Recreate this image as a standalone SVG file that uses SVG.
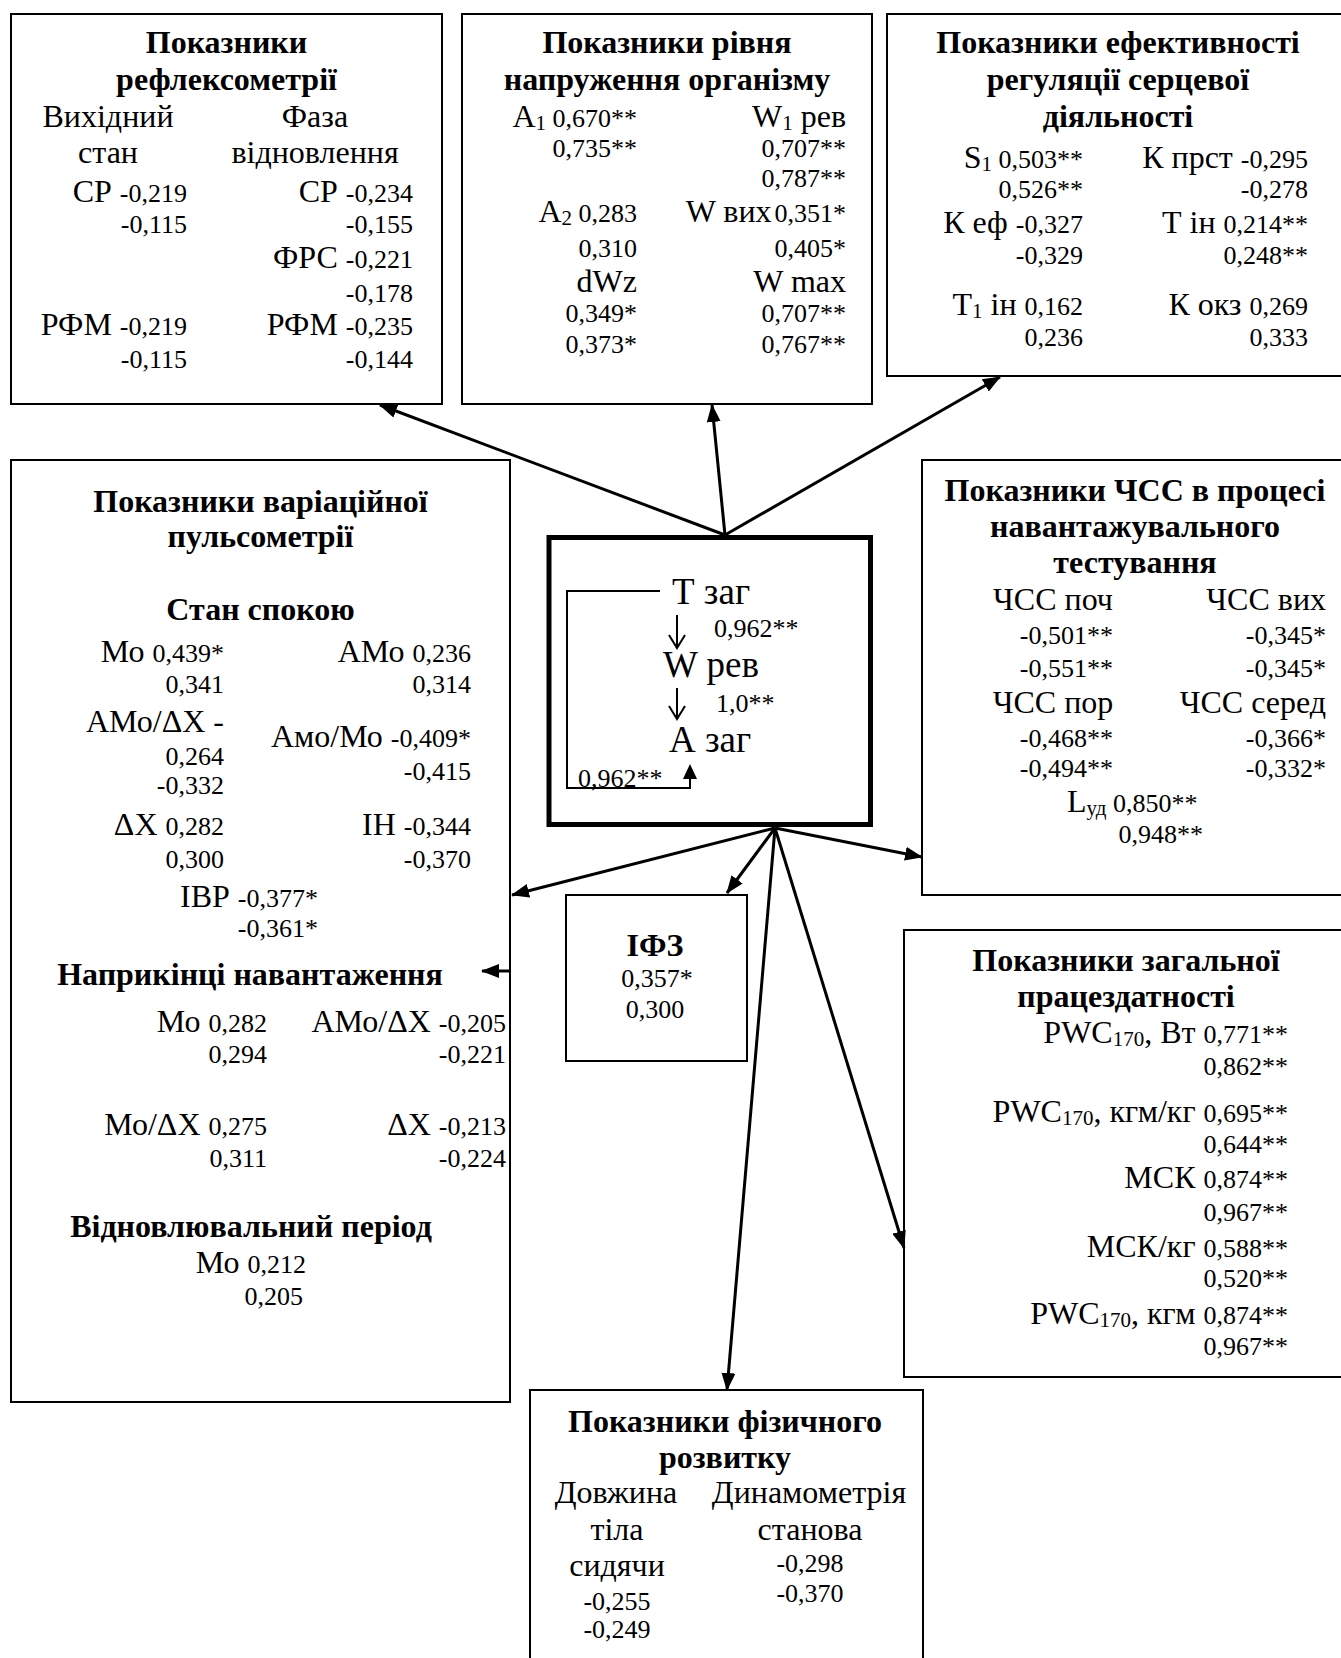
<svg xmlns="http://www.w3.org/2000/svg" width="1341" height="1658" viewBox="0 0 1341 1658">
<style>
text{font-family:"Liberation Serif","Times New Roman",serif;fill:#000}
.t{font-size:32px;font-weight:bold;text-anchor:middle}
.l{font-size:32px}
.e{text-anchor:end}
.m{text-anchor:middle}
.n{font-size:26px}
.s{font-size:21px}
.c{font-size:37px}
.box{fill:#fff;stroke:#000;stroke-width:2}
.con line{stroke:#000;stroke-width:3;marker-end:url(#ah)}
</style>
<defs>
<marker id="ah" markerWidth="18" markerHeight="14" refX="17" refY="7" orient="auto" markerUnits="userSpaceOnUse"><path d="M0,0 L18,7 L0,14 z" fill="#000"/></marker>
</defs>
<rect width="1341" height="1658" fill="#fff"/>

<g id="reflex">
<rect class="box" x="11" y="14" width="431" height="390"/>
<text class="t" x="226.5" y="53">Показники</text>
<text class="t" x="226.5" y="90">рефлексометрії</text>
<text class="l m" x="108" y="127">Вихідний</text>
<text class="l m" x="108" y="163">стан</text>
<text class="l m" x="315" y="127">Фаза</text>
<text class="l m" x="315" y="163">відновлення</text>
<text class="l e" x="187" y="202">СР <tspan class="n">-0,219</tspan></text>
<text class="n e" x="187" y="233">-0,115</text>
<text class="l e" x="187" y="335">РФМ <tspan class="n">-0,219</tspan></text>
<text class="n e" x="187" y="368">-0,115</text>
<text class="l e" x="413" y="202">СР <tspan class="n">-0,234</tspan></text>
<text class="n e" x="413" y="233">-0,155</text>
<text class="l e" x="413" y="268">ФРС <tspan class="n">-0,221</tspan></text>
<text class="n e" x="413" y="302">-0,178</text>
<text class="l e" x="413" y="335">РФМ <tspan class="n">-0,235</tspan></text>
<text class="n e" x="413" y="368">-0,144</text>
</g>

<g id="strain">
<rect class="box" x="462" y="14" width="410" height="390"/>
<text class="t" x="667" y="53">Показники рівня</text>
<text class="t" x="667" y="90">напруження організму</text>
<text class="l e" x="637" y="127">А<tspan class="s" dy="3">1</tspan><tspan class="n" dy="-3"> 0,670**</tspan></text>
<text class="n e" x="637" y="157">0,735**</text>
<text class="l e" x="637" y="222">А<tspan class="s" dy="3">2</tspan><tspan class="n" dy="-3"> 0,283</tspan></text>
<text class="n e" x="637" y="257">0,310</text>
<text class="l e" x="637" y="292">dWz</text>
<text class="n e" x="637" y="322">0,349*</text>
<text class="n e" x="637" y="353">0,373*</text>
<text class="l e" x="846" y="127">W<tspan class="s" dy="3">1</tspan><tspan dy="-3"> рев</tspan></text>
<text class="n e" x="846" y="157">0,707**</text>
<text class="n e" x="846" y="187">0,787**</text>
<text class="l e" x="846" y="222">W вих<tspan class="n" dx="3">0,351*</tspan></text>
<text class="n e" x="846" y="257">0,405*</text>
<text class="l e" x="846" y="292">W max</text>
<text class="n e" x="846" y="322">0,707**</text>
<text class="n e" x="846" y="353">0,767**</text>
</g>

<g id="regulation">
<rect class="box" x="887" y="14" width="470" height="362"/>
<text class="t" x="1118" y="53">Показники ефективності</text>
<text class="t" x="1118" y="90">регуляції серцевої</text>
<text class="t" x="1118" y="127">діяльності</text>
<text class="l e" x="1083" y="168">S<tspan class="s" dy="3">1</tspan><tspan class="n" dy="-3">  0,503**</tspan></text>
<text class="n e" x="1083" y="198">0,526**</text>
<text class="l e" x="1083" y="233">К еф <tspan class="n">-0,327</tspan></text>
<text class="n e" x="1083" y="264">-0,329</text>
<text class="l e" x="1083" y="315">Т<tspan class="s" dy="3">1</tspan><tspan dy="-3"> ін </tspan><tspan class="n">0,162</tspan></text>
<text class="n e" x="1083" y="346">0,236</text>
<text class="l e" x="1308" y="168">К прст <tspan class="n">-0,295</tspan></text>
<text class="n e" x="1308" y="198">-0,278</text>
<text class="l e" x="1308" y="233">Т ін <tspan class="n">0,214**</tspan></text>
<text class="n e" x="1308" y="264">0,248**</text>
<text class="l e" x="1308" y="315">К окз <tspan class="n">0,269</tspan></text>
<text class="n e" x="1308" y="346">0,333</text>
</g>

<g id="pulsometry">
<rect class="box" x="11" y="460" width="499" height="942"/>
<text class="t" x="260.5" y="512">Показники варіаційної</text>
<text class="t" x="260.5" y="547">пульсометрії</text>
<text class="t" x="260.5" y="620">Стан спокою</text>
<text class="l e" x="224" y="662">Мо <tspan class="n">0,439*</tspan></text>
<text class="n e" x="224" y="693">0,341</text>
<text class="l e" x="224" y="732">АМо/ΔХ -</text>
<text class="n e" x="224" y="765">0,264</text>
<text class="n e" x="224" y="794">-0,332</text>
<text class="l e" x="224" y="835">ΔХ <tspan class="n">0,282</tspan></text>
<text class="n e" x="224" y="868">0,300</text>
<text class="l e" x="471" y="662">АМо <tspan class="n">0,236</tspan></text>
<text class="n e" x="471" y="693">0,314</text>
<text class="l e" x="471" y="747">Амо/Мо <tspan class="n">-0,409*</tspan></text>
<text class="n e" x="471" y="780">-0,415</text>
<text class="l e" x="471" y="835">ІН <tspan class="n">-0,344</tspan></text>
<text class="n e" x="471" y="868">-0,370</text>
<text class="l e" x="318" y="907">ІВР <tspan class="n">-0,377*</tspan></text>
<text class="n e" x="318" y="937">-0,361*</text>
<text class="t" x="250" y="985">Наприкінці навантаження</text>
<text class="l e" x="267" y="1032">Мо <tspan class="n">0,282</tspan></text>
<text class="n e" x="267" y="1063">0,294</text>
<text class="l e" x="267" y="1135">Мо/ΔХ <tspan class="n">0,275</tspan></text>
<text class="n e" x="267" y="1167">0,311</text>
<text class="l e" x="506" y="1032">АМо/ΔХ <tspan class="n">-0,205</tspan></text>
<text class="n e" x="506" y="1063">-0,221</text>
<text class="l e" x="506" y="1135">ΔХ <tspan class="n">-0,213</tspan></text>
<text class="n e" x="506" y="1167">-0,224</text>
<text class="t" x="251" y="1237">Відновлювальний період</text>
<text class="l e" x="306" y="1273">Мо <tspan class="n">0,212</tspan></text>
<text class="n e" x="303" y="1305">0,205</text>
</g>

<g id="center">
<rect x="549" y="537.5" width="321.5" height="287" fill="#fff" stroke="#000" stroke-width="5"/>
<text class="c" x="672" y="604">Т заг</text>
<text class="c" x="663" y="677">W рев</text>
<text class="c" x="669" y="752">А заг</text>
<text class="n" x="714" y="637">0,962**</text>
<text class="n" x="716" y="712">1,0**</text>
<text class="n" x="578" y="787">0,962**</text>
<g fill="none" stroke="#000" stroke-width="2">
<path d="M677,615 V648 M669,635 L677,648 L685,635"/>
<path d="M677,688 V719 M669,706 L677,719 L685,706"/>
<path d="M660,591 H567 V788 H690 V776"/>
</g>
<path d="M683,779 L697,779 L690,764 z" fill="#000"/>
</g>

<g id="hr">
<rect class="box" x="922" y="460" width="430" height="435"/>
<text class="t" x="1135" y="501">Показники ЧСС в процесі</text>
<text class="t" x="1135" y="537">навантажувального</text>
<text class="t" x="1135" y="573">тестування</text>
<text class="l m" x="1053" y="610">ЧСС поч</text>
<text class="n e" x="1113" y="644">-0,501**</text>
<text class="n e" x="1113" y="677">-0,551**</text>
<text class="l m" x="1053" y="713">ЧСС пор</text>
<text class="n e" x="1113" y="747">-0,468**</text>
<text class="n e" x="1113" y="777">-0,494**</text>
<text class="l e" x="1326" y="610">ЧСС вих</text>
<text class="n e" x="1326" y="644">-0,345*</text>
<text class="n e" x="1326" y="677">-0,345*</text>
<text class="l e" x="1326" y="713">ЧСС серед</text>
<text class="n e" x="1326" y="747">-0,366*</text>
<text class="n e" x="1326" y="777">-0,332*</text>
<text class="l" x="1067" y="812">L<tspan class="s" dy="3">уд</tspan><tspan class="n" dy="-3"> 0,850**</tspan></text>
<text class="n e" x="1203" y="843">0,948**</text>
</g>

<g id="ifz">
<rect class="box" x="566" y="895" width="181" height="166"/>
<text class="t" x="655" y="956">ІФЗ</text>
<text class="n m" x="657" y="987">0,357*</text>
<text class="n m" x="655" y="1018">0,300</text>
</g>

<g id="capacity">
<rect class="box" x="904" y="930" width="450" height="447"/>
<text class="t" x="1126" y="971">Показники загальної</text>
<text class="t" x="1126" y="1007">працездатності</text>
<text class="l e" x="1288" y="1043">PWC<tspan class="s" dy="3">170</tspan><tspan dy="-3">, Вт </tspan><tspan class="n">0,771**</tspan></text>
<text class="n e" x="1288" y="1075">0,862**</text>
<text class="l e" x="1288" y="1122">PWC<tspan class="s" dy="3">170</tspan><tspan dy="-3">, кгм/кг </tspan><tspan class="n">0,695**</tspan></text>
<text class="n e" x="1288" y="1153">0,644**</text>
<text class="l e" x="1288" y="1188">МСК <tspan class="n">0,874**</tspan></text>
<text class="n e" x="1288" y="1221">0,967**</text>
<text class="l e" x="1288" y="1257">МСК/кг <tspan class="n">0,588**</tspan></text>
<text class="n e" x="1288" y="1287">0,520**</text>
<text class="l e" x="1288" y="1324">PWC<tspan class="s" dy="3">170</tspan><tspan dy="-3">, кгм </tspan><tspan class="n">0,874**</tspan></text>
<text class="n e" x="1288" y="1355">0,967**</text>
</g>

<g id="physical">
<rect class="box" x="530" y="1390" width="393" height="290"/>
<text class="t" x="725" y="1432">Показники фізичного</text>
<text class="t" x="725" y="1468">розвитку</text>
<text class="l m" x="616" y="1503">Довжина</text>
<text class="l m" x="617" y="1540">тіла</text>
<text class="l m" x="617" y="1576">сидячи</text>
<text class="n m" x="617" y="1610">-0,255</text>
<text class="n m" x="617" y="1638">-0,249</text>
<text class="l m" x="809" y="1503">Динамометрія</text>
<text class="l m" x="810" y="1540">станова</text>
<text class="n m" x="810" y="1572">-0,298</text>
<text class="n m" x="810" y="1602">-0,370</text>
</g>

<g id="connectors" class="con">
<line x1="725" y1="535" x2="380" y2="405"/>
<line x1="725" y1="535" x2="712" y2="405"/>
<line x1="725" y1="535" x2="1000" y2="377"/>
<line x1="775" y1="828" x2="512" y2="895"/>
<line x1="775" y1="828" x2="727" y2="893"/>
<line x1="775" y1="828" x2="922" y2="857"/>
<line x1="775" y1="828" x2="727" y2="1390"/>
<line x1="775" y1="828" x2="904" y2="1248"/>
<line x1="510" y1="971" x2="482" y2="971"/>
</g>
</svg>
